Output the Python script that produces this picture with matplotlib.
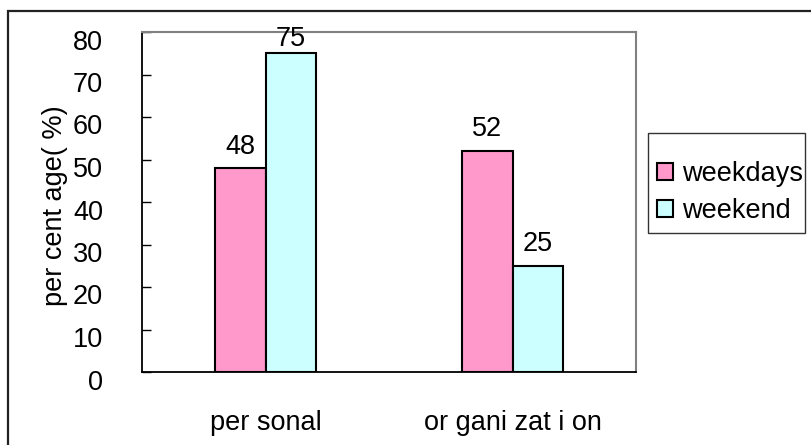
import matplotlib
matplotlib.use("Agg")
import matplotlib.pyplot as plt
import matplotlib.transforms as mtransforms
from matplotlib.patches import Rectangle
import numpy as np

plt.rcParams['font.family'] = ['Liberation Sans', 'DejaVu Sans']

categories = ["per sonal", "or gani zat i on"]
series_names = ["weekdays", "weekend"]
weekdays = [48, 52]
weekend = [75, 25]
y_ticks = [0, 10, 20, 30, 40, 50, 60, 70, 80]
y_label = "per cent age( %)"

colors = ["#FF99CC", "#CCFFFF"]
W, H = 811, 445
fig = plt.figure(figsize=(W / 100, H / 100), dpi=100)

# chart area frame (left and top edges inside the image)
fig.add_artist(Rectangle((8 / W, -0.5), 1.5, 1.5 - 11 / H, transform=fig.transFigure,
                         fill=False, edgecolor="#222222", linewidth=1.6))

ax = fig.add_axes([142 / W, (H - 372) / H, 494 / W, 340 / H])

x = np.arange(len(categories))
bw = 0.205
fs = 19.5
ymax = 80
for i, (name, vals) in enumerate(zip(series_names, [weekdays, weekend])):
    xs = x + (i - 0.5) * bw
    ax.bar(xs, vals, width=bw, color=colors[i], edgecolor="black", linewidth=1.5,
           label=name, zorder=2)
    for xv, v in zip(xs, vals):
        ly = min(v + 2.0, ymax - 4.6)
        ax.text(xv, ly, f"{v}", ha="center", va="bottom", fontsize=fs, zorder=3,
                clip_on=False)

ax.set_xlim(-0.5, 1.5)
ax.set_ylim(0, ymax)
ax.set_yticks(y_ticks)
ax.set_xticks(x)
ax.set_xticklabels(categories)
ax.tick_params(axis="y", direction="in", length=6.5, width=1, pad=28, labelsize=fs)
ax.tick_params(axis="x", length=0, pad=27, labelsize=fs)

# y labels sit slightly below their ticks
offset = mtransforms.ScaledTranslation(0, -7.5 / 100, fig.dpi_scale_trans)
for lab in ax.get_yticklabels():
    lab.set_transform(lab.get_transform() + offset)

ax.set_ylabel(y_label, fontsize=fs)
ax.yaxis.set_label_coords(68 / W, 1 - 206 / H, transform=fig.transFigure)

for side in ["left", "bottom"]:
    ax.spines[side].set_color("black")
    ax.spines[side].set_linewidth(1.3)
for side in ["top", "right"]:
    ax.spines[side].set_color("#808080")
    ax.spines[side].set_linewidth(1.5)

# legend entries, with a separate box drawn around them
leg = fig.legend(loc="upper left", bbox_to_anchor=(657 / W, 1 - 161 / H),
                 bbox_transform=fig.transFigure, fontsize=fs, frameon=False,
                 handlelength=0.6, handleheight=0.6, handletextpad=0.33,
                 borderpad=0, labelspacing=0.42, borderaxespad=0)
fig.add_artist(Rectangle((648 / W, 1 - 233 / H), 157 / W, 100 / H,
                         transform=fig.transFigure, fill=False,
                         edgecolor="#333333", linewidth=1.0))

fig.savefig("out.png", dpi=100)
